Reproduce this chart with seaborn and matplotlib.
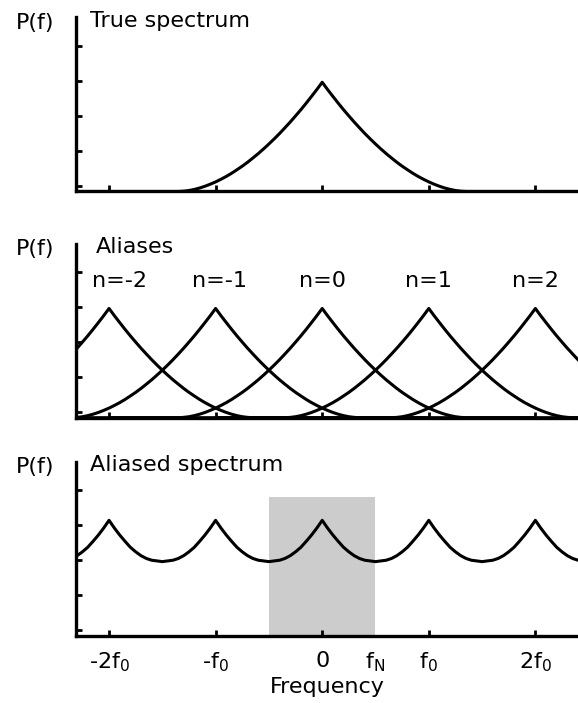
import numpy as np
import matplotlib
matplotlib.use("Agg")
import matplotlib.pyplot as plt
import seaborn as sns

# true spectrum, one side, relative to the peak
freq_half = [0.0, 0.05, 0.10, 0.15, 0.20, 0.25, 0.30, 0.35, 0.40, 0.45, 0.50,
             0.55, 0.60, 0.65, 0.70, 0.75, 0.80, 0.85, 0.90, 0.95, 1.00,
             1.05, 1.10, 1.15, 1.20, 1.25, 1.30, 1.35]
power_half = [1.0, 0.934, 0.871, 0.809, 0.749, 0.692, 0.636, 0.583, 0.531, 0.482, 0.435,
              0.390, 0.347, 0.307, 0.268, 0.232, 0.199, 0.167, 0.138, 0.112, 0.088,
              0.067, 0.048, 0.032, 0.019, 0.009, 0.003, 0.0]
peak = 3.12

# aliased spectrum over half a period (0 .. f_N)
alias_freq = [0.0, 0.05, 0.10, 0.15, 0.20, 0.25, 0.30, 0.35, 0.40, 0.45, 0.50]
alias_power = [3.29, 3.07, 2.87, 2.69, 2.52, 2.39, 2.28, 2.20, 2.15, 2.13, 2.11]

orders = [-2, -1, 0, 1, 2]
label_shift = [0.1, 0.04, 0.0, 0.0, 0.0]
nyquist = 0.5
box_top = 3.97

xticks = [-2, -1, 0, 1, 2]
xticklabels = ["-2f$_0$", "-f$_0$", "0", "f$_0$", "2f$_0$"]
titles = ["True spectrum", "Aliases", "Aliased spectrum"]


def full_profile(f, p):
    f = np.asarray(f)
    p = np.asarray(p)
    x = np.concatenate([-f[::-1], f[1:]])
    y = np.concatenate([p[::-1], p[1:]])
    # flat zero out to the edges of the plot
    x = np.concatenate([[-3.0], x, [3.0]])
    y = np.concatenate([[0.0], y, [0.0]])
    return x, y


sns.set_style("ticks")
plt.rcParams["font.family"] = ["DejaVu Sans"]
plt.rcParams["mathtext.default"] = "regular"
plt.rcParams["text.color"] = "k"
plt.rcParams["axes.labelcolor"] = "k"
plt.rcParams["axes.edgecolor"] = "k"
plt.rcParams["xtick.color"] = "k"
plt.rcParams["ytick.color"] = "k"

fig = plt.figure(figsize=(5.78, 7.03), dpi=100)
left = 76 / 578
width = 1 - left
bottoms = [1 - 191.5 / 703, 1 - 417.7 / 703, 1 - 635.5 / 703]
height = 174 / 703
axes = [fig.add_axes([left, b, width, height]) for b in bottoms]

lw = 2.2
fs = 16

for i, ax in enumerate(axes):
    ax.set_xlim(-2.31, 2.40)
    ax.set_ylim(0, 4.97)
    for s in ["top", "right"]:
        ax.spines[s].set_visible(False)
    for s in ["left", "bottom"]:
        ax.spines[s].set_linewidth(2.4)
    ax.set_xticks(xticks)
    ax.set_yticks(np.arange(0.15, 4.6, 1.0))
    ax.set_yticklabels([])
    ax.tick_params(direction="in", length=4, width=2, colors="k")
    ax.text(-0.12, 0.935, "P(f)", transform=ax.transAxes, fontsize=fs,
            ha="left", va="baseline")
    tx = 0.039 if i == 1 else 0.028
    ax.text(tx, 0.945, titles[i], transform=ax.transAxes, fontsize=fs,
            ha="left", va="baseline")
    if i < 2:
        ax.set_xticklabels([])

# top: the true spectrum
x, y = full_profile(freq_half, power_half)
sns.lineplot(x=x, y=peak * y, ax=axes[0], color="k", lw=lw, sort=False,
             estimator=None)

# middle: shifted copies
for n, dx in zip(orders, label_shift):
    sns.lineplot(x=x + n, y=peak * y, ax=axes[1], color="k", lw=lw,
                 sort=False, estimator=None)
    axes[1].text(n + dx, 3.72, "n={0}".format(n), fontsize=fs, ha="center",
                 va="baseline")

# bottom: aliased spectrum, repeated every f0
ax = axes[2]
ax.axvspan(-nyquist, nyquist, ymin=0, ymax=box_top / 4.97, color="#cccccc",
           lw=0, zorder=0)
xs, ys = [], []
for n in range(-3, 4):
    f = np.asarray(alias_freq)
    p = np.asarray(alias_power)
    xs.append(np.concatenate([n - f[::-1], n + f[1:]]))
    ys.append(np.concatenate([p[::-1], p[1:]]))
sns.lineplot(x=np.concatenate(xs), y=np.concatenate(ys), ax=ax, color="k",
             lw=lw, sort=False, estimator=None)
ax.set_xticklabels(xticklabels, fontsize=fs)
ax.set_xticks([nyquist], ["f$_N$"], minor=True, fontsize=fs)
ax.tick_params(axis="x", which="major", pad=11)
ax.tick_params(axis="x", which="minor", length=0, pad=11)
ax.set_xlabel("Frequency", fontsize=fs, labelpad=2)

fig.savefig("out.png", dpi=100)
